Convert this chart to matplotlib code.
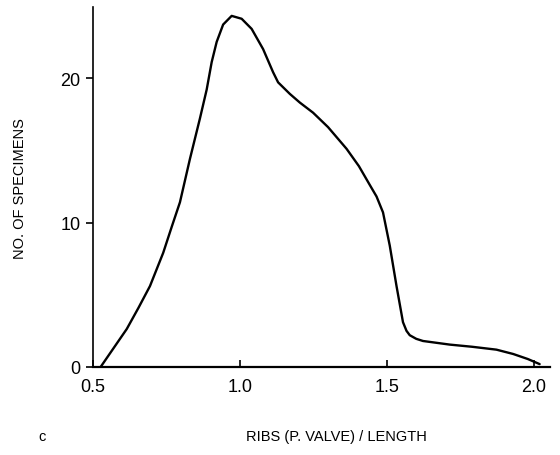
import numpy as np
import matplotlib
matplotlib.use("Agg")
import matplotlib.pyplot as plt

# values
ribs_per_length = [0.526, 0.57, 0.615, 0.655, 0.694, 0.739, 0.768, 0.796, 0.830, 0.864,
                   0.887, 0.904, 0.921, 0.943, 0.972, 1.006, 1.040, 1.079, 1.113, 1.130,
                   1.170, 1.204, 1.249, 1.3, 1.363, 1.405, 1.442, 1.465, 1.487, 1.510,
                   1.533, 1.555, 1.567, 1.578, 1.600, 1.623, 1.714, 1.79, 1.873, 1.93,
                   1.98, 2.02]
specimens = [0.0, 1.3, 2.63, 4.1, 5.6, 7.9, 9.7, 11.4, 14.4, 17.2,
             19.2, 21.1, 22.5, 23.7, 24.3, 24.1, 23.4, 22.0, 20.4, 19.7,
             18.9, 18.3, 17.6, 16.6, 15.1, 13.9, 12.6, 11.8, 10.7, 8.4,
             5.6, 3.1, 2.5, 2.2, 1.95, 1.8, 1.55, 1.4, 1.2, 0.9,
             0.55, 0.2]

x_ticks = [0.5, 1.0, 1.5, 2.0]
x_ticklabels = ["0.5", "1.0", "1.5", "2.0"]
y_ticks = [0, 10, 20]

plt.rcParams['font.family'] = ['Liberation Sans', 'DejaVu Sans']

fig = plt.figure(figsize=(5.6, 4.56), dpi=100)
ax = fig.add_axes([0.166, 0.193, 0.816, 0.789])
ax.plot(ribs_per_length, specimens, color='black', lw=1.7,
        solid_capstyle='round', solid_joinstyle='round')

ax.set_xlim(0.5, 2.055)
ax.set_ylim(0, 24.9)
ax.spines['top'].set_visible(False)
ax.spines['right'].set_visible(False)
ax.spines['left'].set_linewidth(1.2)
ax.spines['bottom'].set_linewidth(1.6)

ax.set_xticks(x_ticks)
ax.set_xticklabels(x_ticklabels)
ax.set_yticks(y_ticks)
ax.tick_params(axis='x', direction='in', length=5, width=1.2, labelsize=13, pad=8)
ax.tick_params(axis='y', direction='out', length=5, width=1.2, labelsize=13, pad=4)

ax.set_ylabel("NO. OF SPECIMENS", fontsize=10.5, labelpad=24)
fig.text(0.6, 0.042, "RIBS (P. VALVE) / LENGTH", fontsize=10.5, ha='center', va='center')
fig.text(0.075, 0.042, "c", fontsize=10.5, ha='center', va='center')

fig.savefig("out.png", dpi=100)
